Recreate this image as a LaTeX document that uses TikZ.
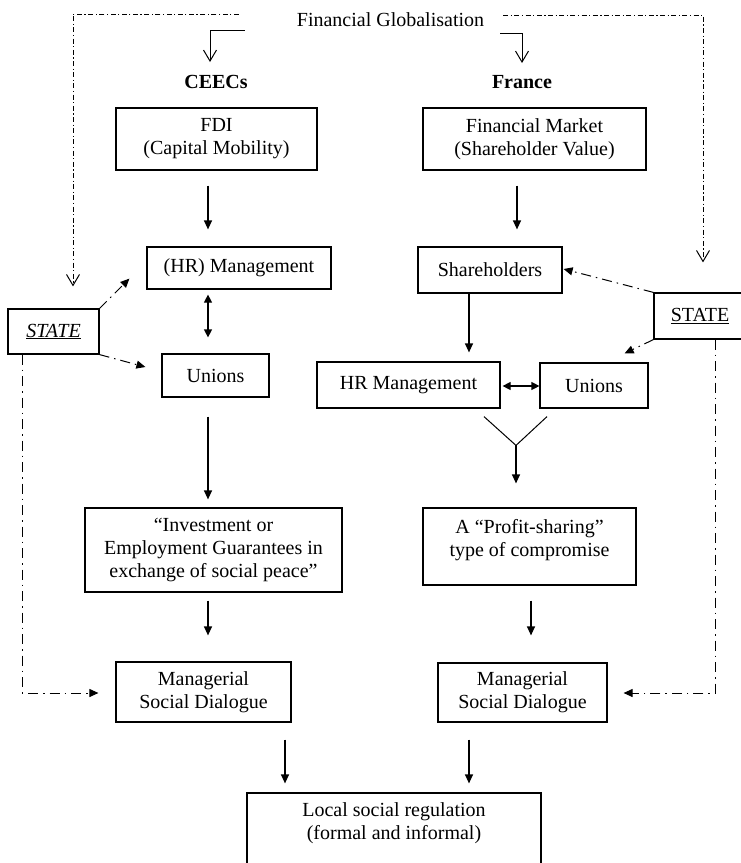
\documentclass[tikz,border=0pt]{standalone}
\usepackage{fontspec}
\setmainfont{Liberation Serif}
\usetikzlibrary{arrows.meta,calc}

\begin{document}
\begin{tikzpicture}[x=1pt,y=-1pt,
  every node/.style={font=\fontsize{20}{23}\selectfont},
  box/.style 2 args={draw, line width=1.2pt, minimum width=#1pt, minimum height=#2pt,
                     inner sep=0pt, align=center},
  txt/.style={inner sep=0pt, align=center},
  head/.style={font=\fontsize{20}{23}\selectfont\bfseries, inner sep=0pt},
  flow/.style={line width=1.2pt, -{Triangle[length=9pt,width=8pt]}},
  twoway/.style={line width=1.2pt, {Triangle[length=8pt,width=8pt]}-{Triangle[length=8pt,width=8pt]}},
  plain/.style={line width=1pt, -{Straight Barb[length=11pt,width=13pt]}},
  globe/.style={line width=1pt, dash pattern=on 5pt off 2.5pt on 1.2pt off 2.5pt,
                -{Straight Barb[length=11pt,width=13pt]}},
  statearr/.style={line width=1pt, dash pattern=on 10pt off 5pt on 1.5pt off 5pt,
                   -{Triangle[length=9pt,width=8pt]}}
]
\useasboundingbox (0,0) rectangle (741,863);
\clip (0,0) rectangle (741,863);

% headings
\node[txt] (fg) at (390.5,20) {Financial Globalisation};
\node[head] (ceecs) at (216,82) {CEECs};
\node[head] (france) at (522,82) {France};

% CEECs column
\node[box={201}{62}] (fdi) at (216.5,139) {FDI\\(Capital Mobility)};
\node[box={184}{42}] (hrmL) at (239,268) {(HR) Management};
\node[box={107}{43}] (unionsL) at (215.5,375.5) {Unions};
\node[box={257}{84}] (invest) at (213.5,550) {“Investment or\\Employment Guarantees in\\exchange of social peace”};
\node[box={175}{60}] (mgrL) at (203.5,692) {Managerial\\Social Dialogue};

% France column
\node[box={223}{62}] (finmkt) at (534.5,139) {Financial Market\\(Shareholder Value)};
\node[box={144}{46}] (shareh) at (490,270) {Shareholders};
\node[box={183}{46}] (hrmR) at (408.5,385) {HR Management};
\node[box={108}{45}] (unionsR) at (594,385.5) {Unions};
\node[box={213}{77}] (profit) at (529.5,546.5) {};
\node[txt] (profittxt) at (529.5,540) {A “Profit-sharing”\\type of compromise};
\node[box={169}{59}] (mgrR) at (522.5,692.5) {Managerial\\Social Dialogue};

% state boxes
\node[box={91}{45}] (stateL) at (53.5,331.5) {\underline{\textit{STATE}}};
\node[box={92}{46}] (stateR) at (700,316) {\underline{STATE}};

% common outcome
\node[box={294}{90}] (local) at (394,838) {};
\node[txt] (localtxt) at (394,823.5) {Local social regulation\\(formal and informal)};

% globalisation links
\draw[globe] ($(fg.west)+(-58,-6)$) -| ($(stateL.north)+(19.5,-22)$);
\draw[globe] ($(fg.east)+(19,-5)$) -| ($(stateR.north)+(3,-30)$);
\draw[plain] ($(fg.west)+(-52,10)$) -| ($(ceecs.center)+(-6,-20)$);
\draw[plain] ($(fg.east)+(16,13)$) -| ($(france.center)+(0,-19)$);

% CEECs flow
\draw[flow] ($(fdi.south)+(-8.5,15)$) -- ($(hrmL.north)+(-31,-17)$);
\draw[twoway] ($(hrmL.south)+(-31,5)$) -- ($(unionsL.north)+(-7.5,-16)$);
\draw[flow] ($(unionsL.south)+(-7.5,19)$) -- ($(invest.north)+(-5.5,-8)$);
\draw[flow] ($(invest.south)+(-5.5,8)$) -- ($(mgrL.north)+(4.5,-26)$);
\draw[flow] ($(mgrL.south)+(81.5,17)$) -- ($(local.north)+(-109,-9)$);

% France flow
\draw[flow] ($(finmkt.south)+(-17.5,15)$) -- ($(shareh.north)+(27,-17)$);
\draw[flow] ($(shareh.south)+(-21,0)$) -- ($(hrmR.north)+(60.5,-9)$);
\draw[twoway] ($(hrmR.east)+(2,1)$) -- ($(unionsR.west)+(0,0.5)$);
\coordinate (merge) at ($(profit.north)+(-13.5,-62)$);
\draw[line width=1pt] ($(hrmR.south)+(75.5,8)$) -- (merge) -- ($(unionsR.south)+(-47,8)$);
\draw[flow] (merge) -- ($(profit.north)+(-13.5,-24)$);
\draw[flow] ($(profit.south)+(1.5,15)$) -- ($(mgrR.north)+(8.5,-27)$);
\draw[flow] ($(mgrR.south)+(-53.5,17)$) -- ($(local.north)+(75,-9)$);

% state influence
\draw[statearr] (stateL.north east) -- ($(hrmL.south west)+(-17,-11)$);
\draw[statearr] (stateL.south east) -- ($(unionsL.west)+(-16,-8.5)$);
\draw[statearr] ($(stateL.south west)+(15,0)$) |- ($(mgrL.west)+(-17,1)$);
\draw[statearr] (stateR.north west) -- ($(shareh.east)+(1,-1)$);
\draw[statearr] (stateR.south west) -- ($(unionsR.north east)+(-24,-9)$);
\draw[statearr] ($(stateR.south west)+(62,0)$) |- ($(mgrR.east)+(16,0.5)$);
\end{tikzpicture}
\end{document}
